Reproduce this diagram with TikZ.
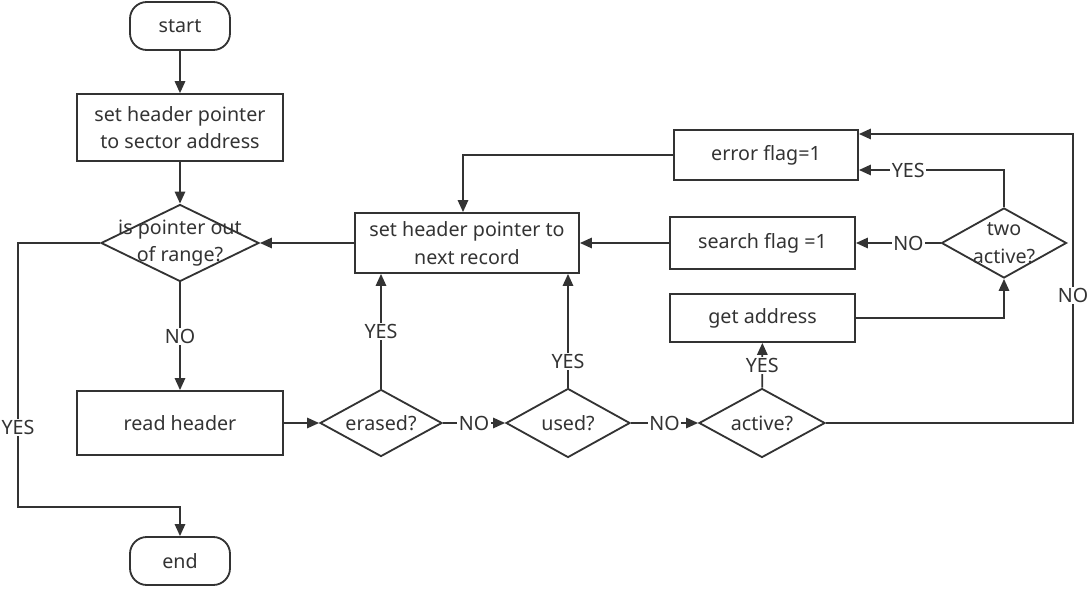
\documentclass[tikz,border=0pt]{standalone}
\usepackage{fontspec}
\setmainfont{Noto Sans}
\usetikzlibrary{shapes.geometric, arrows.meta, positioning, calc}
\definecolor{flowGray}{RGB}{51,51,51}

\begin{document}
\begin{tikzpicture}[
  line width=1.3pt, color=flowGray,
  font=\fontsize{14pt}{19.5pt}\selectfont,
  term/.style={
    rectangle, rounded corners=0.42cm, draw,
    minimum width=2.5cm, minimum height=1.2cm
  },
  proc/.style={rectangle, draw, align=center, inner sep=0pt},
  dec/.style={
    diamond, draw, inner sep=0pt,
    label={[align=center]center:#1}
  },
  arr/.style={-{Triangle[length=3mm, width=2.6mm]}},
  lbl/.style={fill=white, inner sep=1pt}
]
  \useasboundingbox (0,0) rectangle (27.25,-14.725);

  % left column
  \node[term] (start) at (4.5,-0.65) {start};
  \node[proc, minimum width=5.15cm, minimum height=1.675cm] (setsec)
    at (4.5,-3.19) {set header pointer\\to sector address};
  \node[dec={is pointer out\\of range?}, minimum width=3.95cm,
    minimum height=1.925cm] (range) at (4.5,-6.075) {};
  \node[proc, minimum width=5.15cm, minimum height=1.6cm] (read)
    at (4.5,-10.575) {read header};
  \node[term] (end) at (4.5,-14.025) {end};

  % header checks
  \node[dec=erased?, minimum width=3.05cm, minimum height=1.675cm] (erased)
    at (9.525,-10.575) {};
  \node[dec=used?, minimum width=3.1cm, minimum height=1.725cm] (used)
    at (14.2,-10.575) {};
  \node[dec=active?, minimum width=3.15cm, minimum height=1.725cm] (active)
    at (19.05,-10.575) {};
  \node[proc, minimum width=5.6cm, minimum height=1.5cm] (next)
    at (11.675,-6.075) {set header pointer to\\next record};

  % flags
  \node[proc, minimum width=4.6cm, minimum height=1.25cm] (errflag)
    at (19.15,-3.875) {error flag=1};
  \node[proc, minimum width=4.625cm, minimum height=1.3cm] (search)
    at (19.0625,-6.075) {search flag =1};
  \node[proc, minimum width=4.625cm, minimum height=1.2cm] (getaddr)
    at (19.0625,-7.95) {get address};
  \node[dec={two\\active?}, minimum width=3.125cm, minimum height=1.75cm] (two)
    at (25.1,-6.075) {};

  \coordinate (yesbend) at (0.45,-12.675);
  \coordinate (nobend) at (26.825,-3.35);

  \draw[arr] (start) -- (setsec);
  \draw[arr] (setsec) -- (range);
  \draw[arr] (range) -- node[lbl]{NO} (read);
  \draw[arr] (range.west) -| node[lbl, pos=0.85]{YES} (yesbend) -| (end);
  \draw[arr] (next) -- (range);
  \draw[arr] (read) -- (erased);
  \draw[arr] (erased) -- node[lbl]{NO} (used);
  \draw[arr] (used) -- node[lbl]{NO} (active);
  \draw[arr] (erased) -- node[lbl]{YES} (erased |- next.south);
  \draw[arr] (used) -- node[lbl, pos=0.23]{YES} (used |- next.south);
  \draw[arr] (active) -- node[lbl]{YES} (getaddr);

  % back to the flags
  \draw[arr] (active) -| node[lbl, pos=0.72]{NO} (nobend)
    -- (nobend -| errflag.east);
  \draw[arr] (two) |- node[lbl, pos=0.83]{YES} ([yshift=-0.375cm]errflag.east);
  \draw[arr] (two) -- node[lbl, pos=0.38]{NO} (search);
  \draw[arr] (getaddr) -| (two);
  \draw[arr] (search) -- (next);
  \draw[arr] (errflag) -| ([xshift=-0.1cm]next.north);
\end{tikzpicture}
\end{document}
